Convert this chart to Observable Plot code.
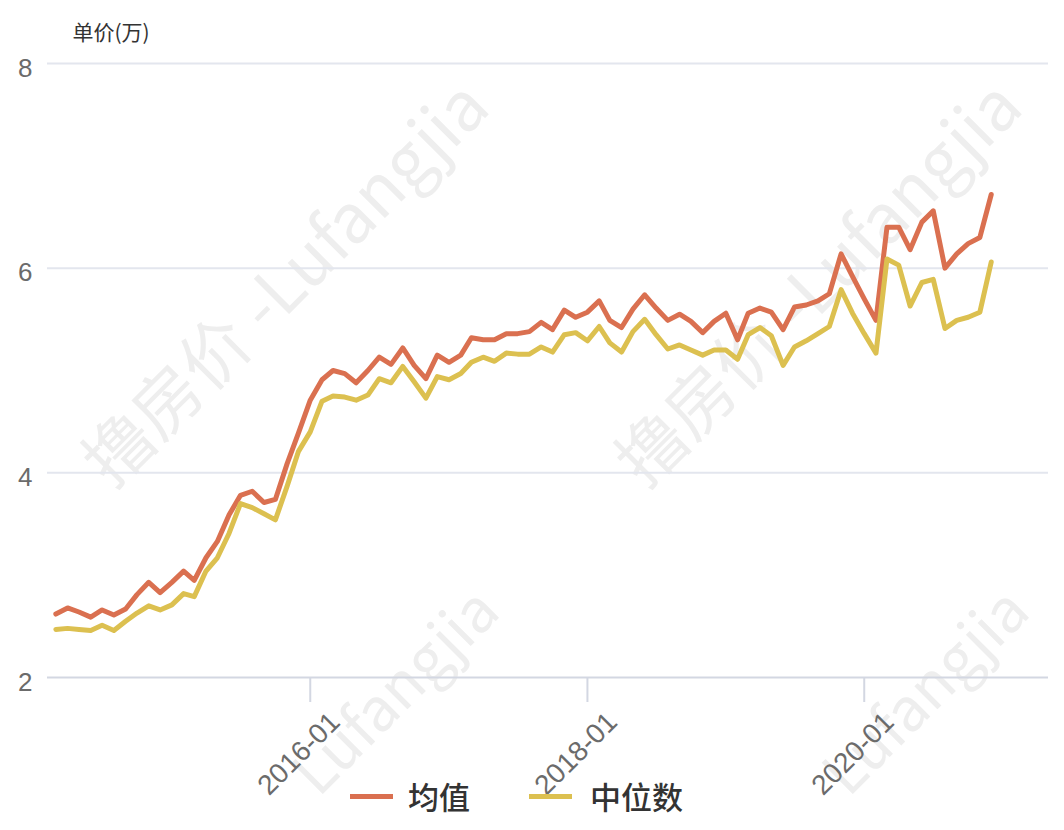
<!DOCTYPE html>
<html><head><meta charset="utf-8">
<script src="https://cdn.jsdelivr.net/npm/d3@7"></script>
<script src="https://cdn.jsdelivr.net/npm/@observablehq/plot@0.6"></script>
<style>
body{margin:0;background:#fff;}
#wrap{position:relative;width:1064px;height:830px;overflow:hidden;font-family:"Liberation Sans","Noto Sans CJK SC",sans-serif;}
.wm{position:absolute;white-space:nowrap;font-family:"Noto Sans CJK SC",sans-serif;font-size:68px;line-height:1;color:#eeeeee;transform:translate(-50%,-50%) rotate(-45deg);}
.wm.small{font-size:60px;}
#chart{position:absolute;left:0;top:0;}
.sw{position:absolute;height:5px;width:43px;top:794px;}
.lt{position:absolute;top:780px;font-size:31px;line-height:31px;color:#333;font-weight:500;font-family:"Noto Sans CJK SC",sans-serif;}
</style></head>
<body>
<div id="wrap">
  <div class="wm" style="left:282px;top:280px">撸房价 -Lufangjia</div>
  <div class="wm" style="left:815px;top:280px">撸房价 -Lufangjia</div>
  <div class="wm small" style="left:392px;top:688px">Lufangjia</div>
  <div class="wm small" style="left:922px;top:688px">Lufangjia</div>
  <div id="chart"></div>
  <div id="legend"></div>
</div>
<script>
const seriesNames = ["均值", "中位数"];
const seriesColors = ["#da7050", "#dcc050"];
const firstMonth = "2014-03";
const lastMonthExclusive = "2021-01";
const meanValues = [2.62,2.68,2.64,2.59,2.66,2.61,2.67,2.81,2.93,2.83,2.93,3.04,2.95,3.17,3.33,3.59,3.78,3.82,3.71,3.74,4.09,4.39,
 4.71,4.91,5.00,4.97,4.88,5.00,5.13,5.06,5.22,5.05,4.92,5.15,5.08,5.15,5.32,5.30,5.30,5.36,5.36,5.38,
 5.47,5.40,5.59,5.52,5.57,5.68,5.49,5.42,5.60,5.74,5.61,5.49,5.55,5.48,5.37,5.48,5.56,5.30,5.56,5.61,5.57,
 5.40,5.62,5.64,5.68,5.75,6.14,5.92,5.70,5.49,6.40,6.40,6.18,6.45,6.56,6.00,6.14,6.24,6.30,6.72];
const medianValues = [2.47,2.48,2.47,2.46,2.51,2.46,2.55,2.63,2.70,2.66,2.71,2.82,2.79,3.04,3.17,3.41,3.70,3.66,3.60,3.54,3.87,4.21,
 4.40,4.70,4.75,4.74,4.71,4.76,4.92,4.88,5.04,4.89,4.73,4.94,4.91,4.97,5.08,5.13,5.09,5.17,5.16,5.16,
 5.23,5.18,5.35,5.37,5.29,5.43,5.27,5.18,5.38,5.50,5.35,5.21,5.25,5.20,5.15,5.20,5.20,5.11,5.35,5.42,5.34,
 5.05,5.23,5.29,5.36,5.43,5.79,5.56,5.36,5.17,6.09,6.03,5.63,5.86,5.89,5.41,5.49,5.52,5.57,6.06];
const yTicks = [2, 4, 6, 8];
const xTickLabels = ["2016-01", "2018-01", "2020-01"];
const yLabel = "单价(万)";
const xDomain = ["2014-02-07", "2021-05-01"];

const parseM = d3.utcParse("%Y-%m");
const fmtM = d3.utcFormat("%Y-%m");
const months = d3.utcMonth.range(parseM(firstMonth), parseM(lastMonthExclusive));
const data = months.flatMap((m, i) => [
  {date: m, value: meanValues[i], series: seriesNames[0]},
  {date: m, value: medianValues[i], series: seriesNames[1]}
]);
const xTickDates = xTickLabels.map(parseM);
const axisColor = "#d3d7e2";
const gridColor = "#e3e6ee";
const labelColor = "#6b6b6b";

const chart = Plot.plot({
  width: 1064,
  height: 830,
  marginLeft: 47,
  marginRight: 16,
  marginTop: 63,
  marginBottom: 153,
  style: {background: "transparent", fontFamily: "'Liberation Sans', Arial, 'Noto Sans CJK SC', sans-serif"},
  x: {type: "utc", domain: xDomain.map(d => d3.utcParse("%Y-%m-%d")(d)), label: null},
  y: {domain: [yTicks[0], yTicks[yTicks.length - 1]], label: null},
  color: {domain: seriesNames, range: seriesColors},
  marks: [
    Plot.gridY({ticks: yTicks.slice(1), stroke: gridColor, strokeOpacity: 1, strokeWidth: 2}),
    Plot.ruleY([yTicks[0]], {stroke: axisColor, strokeWidth: 2}),
    Plot.axisX({ticks: xTickDates, tickSize: 25, tickFormat: () => "", stroke: axisColor, strokeWidth: 2, label: null}),
    Plot.text(xTickDates, {x: d => d, frameAnchor: "bottom", text: d => fmtM(d), rotate: -45, textAnchor: "end", lineAnchor: "middle", dx: 25, dy: 40, fontSize: 28, fill: labelColor}),
    Plot.axisY({ticks: yTicks, tickSize: 0, tickPadding: 15, tickFormat: d3.format("d"), fontSize: 26, fill: labelColor, dy: 5, label: null}),
    Plot.text([yLabel], {frameAnchor: "top-left", text: d => d, textAnchor: "start", dx: 25, dy: -38, fontSize: 21, fill: "#333", fontFamily: "'Noto Sans CJK SC', sans-serif"}),
    Plot.line(data, {x: "date", y: "value", z: "series", stroke: "series", strokeWidth: 5, strokeLinejoin: "round", strokeLinecap: "round"})
  ]
});
document.getElementById("chart").appendChild(chart);

const legend = document.getElementById("legend");
const legendPos = [{sw: 350, tx: 408}, {sw: 529, tx: 590}];
seriesNames.forEach((name, i) => {
  const s = document.createElement("div");
  s.className = "sw"; s.style.left = legendPos[i].sw + "px"; s.style.background = seriesColors[i];
  const t = document.createElement("div");
  t.className = "lt"; t.style.left = legendPos[i].tx + "px"; t.textContent = name;
  legend.appendChild(s); legend.appendChild(t);
});
</script>
</body></html>
